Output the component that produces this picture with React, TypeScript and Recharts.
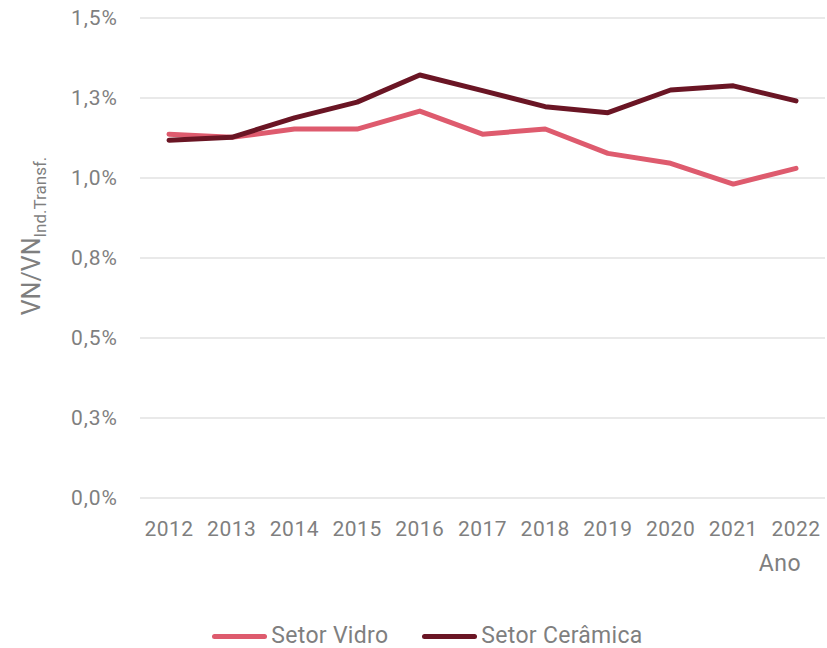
import { LineChart, Line, XAxis, YAxis, CartesianGrid } from "recharts";

const FONT = "'Roboto', sans-serif";
const TEXT_GRAY = "#7f7f7f";

const years = ["2012", "2013", "2014", "2015", "2016", "2017", "2018", "2019", "2020", "2021", "2022"];
const vidro = [1.137, 1.127, 1.153, 1.153, 1.209, 1.137, 1.153, 1.077, 1.046, 0.981, 1.030];
const ceramica = [1.118, 1.127, 1.188, 1.237, 1.322, 1.273, 1.223, 1.204, 1.275, 1.288, 1.241];

const yTicks = [0, 0.25, 0.5, 0.75, 1.0, 1.25, 1.5];
const yTickLabels = ["0,0%", "0,3%", "0,5%", "0,8%", "1,0%", "1,3%", "1,5%"];

const seriesNames = ["Setor Vidro", "Setor Cerâmica"];
const seriesColors = ["#DE5B6E", "#6A1524"];

const data = years.map((year, i) => ({
  year,
  vidro: vidro[i],
  ceramica: ceramica[i],
}));

const YLabel = () => (
  <text
    transform="translate(40, 236) rotate(-90)"
    textAnchor="middle"
    fill={TEXT_GRAY}
    fontFamily={FONT}
    fontSize={25}
  >
    VN/VN
    <tspan dy={6} fontSize={17}>Ind.Transf.</tspan>
  </text>
);

const XLabel = (props: any) => {
  const { viewBox } = props;
  return (
    <text
      x={viewBox.x + viewBox.width - 24}
      y={viewBox.y + 73}
      textAnchor="end"
      fill={TEXT_GRAY}
      fontFamily={FONT}
      fontSize={23}
      letterSpacing={0.5}
    >
      Ano
    </text>
  );
};

export default function App() {
  return (
    <div style={{ position: "absolute", left: 0, top: 0, width: 827, height: 648, background: "#fff" }}>
      <LineChart width={827} height={648} data={data} margin={{ top: 18, right: 2, bottom: 70, left: 0 }}>
        <CartesianGrid vertical={false} stroke="#e2e2e2" strokeWidth={1.5} />
        <XAxis
          dataKey="year"
          height={80}
          padding={{ left: 29, right: 29 }}
          axisLine={false}
          tickLine={false}
          tickSize={0}
          tickMargin={23}
          interval={0}
          tick={{ fill: TEXT_GRAY, fontFamily: FONT, fontSize: 21, letterSpacing: 0.5 }}
          label={<XLabel />}
        />
        <YAxis
          width={140}
          domain={[0, 1.5]}
          ticks={yTicks}
          tickFormatter={(v: number) => yTickLabels[yTicks.indexOf(v)]}
          axisLine={false}
          tickLine={false}
          tickSize={0}
          tickMargin={22}
          tick={{ fill: TEXT_GRAY, fontFamily: FONT, fontSize: 21, letterSpacing: 1 }}
          label={<YLabel />}
        />
        <Line
          type="linear"
          dataKey="vidro"
          name={seriesNames[0]}
          stroke={seriesColors[0]}
          strokeWidth={5}
          dot={false}
          strokeLinecap="round"
          strokeLinejoin="round"
          isAnimationActive={false}
        />
        <Line
          type="linear"
          dataKey="ceramica"
          name={seriesNames[1]}
          stroke={seriesColors[1]}
          strokeWidth={5}
          dot={false}
          strokeLinecap="round"
          strokeLinejoin="round"
          isAnimationActive={false}
        />
      </LineChart>
      <div
        style={{
          position: "absolute",
          left: 0,
          top: 623,
          width: 855,
          display: "flex",
          justifyContent: "center",
          gap: 34,
          fontFamily: FONT,
          fontSize: 23,
          letterSpacing: 0.3,
          color: TEXT_GRAY,
          lineHeight: "26px",
        }}
      >
        {seriesNames.map((name, i) => (
          <div key={name} style={{ display: "flex", alignItems: "center", gap: 4 }}>
            <div style={{ width: 55, height: 5, borderRadius: 3, background: seriesColors[i] }} />
            <span>{name}</span>
          </div>
        ))}
      </div>
    </div>
  );
}
